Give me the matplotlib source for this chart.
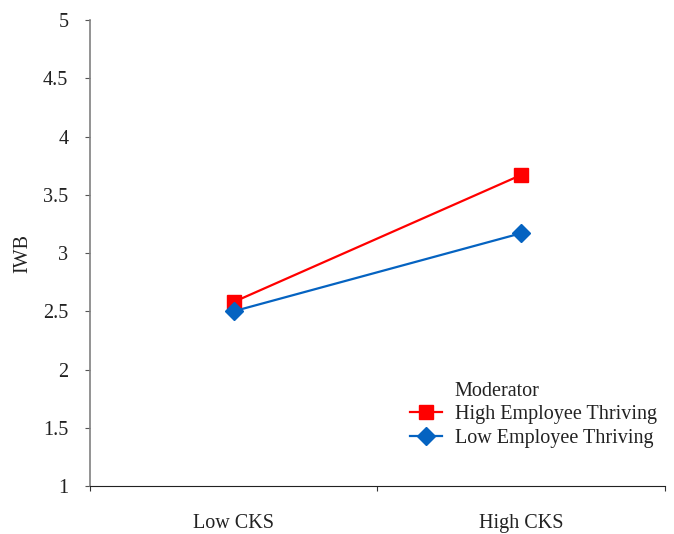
import matplotlib
matplotlib.use("Agg")
import matplotlib.pyplot as plt
from matplotlib.lines import Line2D

categories = ["Low CKS", "High CKS"]
high_thriving = [2.58, 3.67]
low_thriving = [2.50, 3.17]
yticks = [1, 1.5, 2, 2.5, 3, 3.5, 4, 4.5, 5]
ytick_labels = ["1", "1.5", "2", "2.5", "3", "3.5", "4", "4.5", "5"]

plt.rcParams['font.family'] = ['Liberation Serif', 'DejaVu Serif']

fig = plt.figure(figsize=(6.74, 5.34), dpi=100)
ax = fig.add_axes([0.1335, 0.0899, 0.8531, 0.8726])

xpos = [i + 0.5 for i in range(len(categories))]
ax.plot(xpos, high_thriving, color="#FF0000", lw=1.6, marker="s", ms=9.5,
        label="High Employee Thriving")
ax.plot(xpos, low_thriving, color="#0563C1", lw=1.6, marker="D", ms=9,
        label="Low Employee Thriving")

ax.set_xlim(0, len(categories))
ax.set_ylim(1, 5)
ax.set_yticks(yticks)
ax.set_yticklabels(ytick_labels, fontsize=14.5, color="#222222")
ax.set_xticks(range(len(categories) + 1))
ax.set_xticklabels([])
ax.set_xticks(xpos, minor=True)
ax.set_xticklabels(categories, minor=True, fontsize=14.5, color="#222222")
ax.tick_params(axis="x", which="minor", length=0, pad=20.5)
ax.tick_params(axis="x", which="major", length=3.6, direction="out", color="#333333")
ax.tick_params(axis="y", length=3.6, direction="out", color="#555555", pad=12)

for s in ["top", "right"]:
    ax.spines[s].set_visible(False)
ax.spines["left"].set_color("#808080")
ax.spines["left"].set_linewidth(1.2)
ax.spines["bottom"].set_color("#222222")

ax.set_ylabel("IWB", fontsize=14.5, color="#222222", labelpad=8)

handles, labels = ax.get_legend_handles_labels()
blank = Line2D([], [], linestyle="none", marker=None)
leg = ax.legend([blank] + handles, ["Moderator"] + labels, loc="upper left",
                bbox_to_anchor=(0.543, 0.241), frameon=False, fontsize=14.5,
                handlelength=1.6, handletextpad=0.6, labelspacing=0.22,
                borderaxespad=0)
for t in leg.get_texts():
    t.set_color("#222222")

fig.savefig("out.png", dpi=100)
